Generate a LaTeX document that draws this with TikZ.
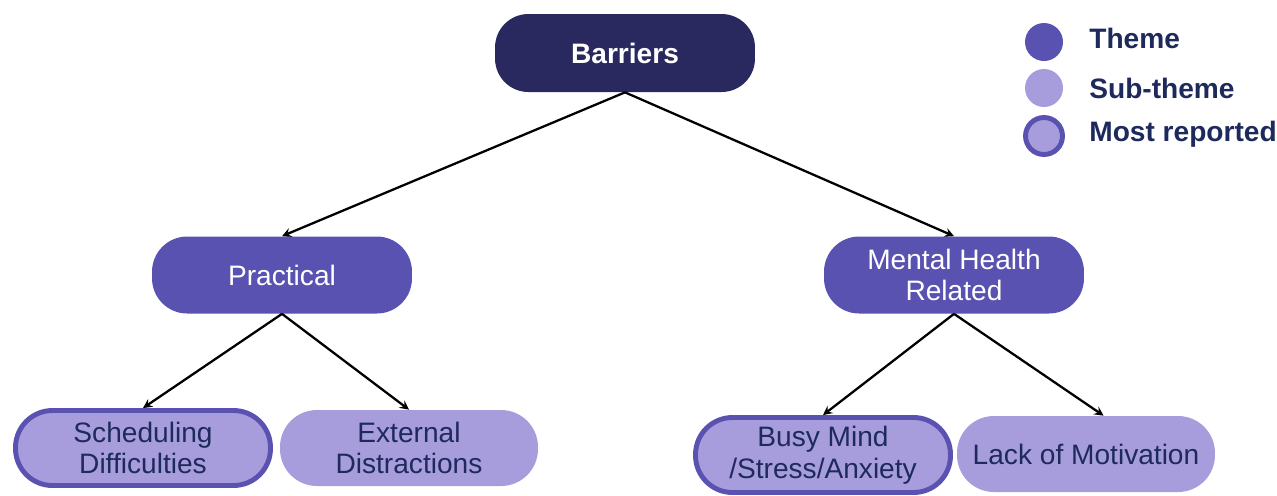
\documentclass[tikz,border=0pt]{standalone}
\usepackage{fontspec}
\setmainfont{Liberation Sans}
\usetikzlibrary{arrows}
\usetikzlibrary{positioning}
\definecolor{bleuNuit}{HTML}{29295F}
\definecolor{violetTheme}{HTML}{5A52B0}
\definecolor{lavande}{HTML}{A79DDC}
\definecolor{encre}{HTML}{1E2A5C}
\tikzstyle{racine}=[
        rectangle,
        rounded corners=19pt,
        fill=bleuNuit,
        text=white,
        font=\fontsize{16}{18}\selectfont\bfseries,
        minimum width=5.2cm,
        minimum height=1.56cm
]
\tikzstyle{theme}=[
        rectangle,
        rounded corners=20pt,
        fill=violetTheme,
        text=white,
        align=center,
        font=\fontsize{16}{18}\selectfont,
        minimum width=5.2cm,
        minimum height=1.54cm
]
\tikzstyle{soustheme}=[rectangle,rounded corners=21pt,fill=lavande,text=encre,align=center,font=\fontsize{16}{18}\selectfont,minimum width=5.16cm,minimum height=1.52cm]
\tikzstyle{frequent}=[soustheme,draw=violetTheme,line width=2.8pt,minimum width=5.1cm,minimum height=1.5cm]
\tikzstyle{pastille}=[circle,minimum size=0.76cm,inner sep=0pt]
\tikzstyle{legende}=[anchor=west,text=encre,font=\fontsize{16}{18}\selectfont\bfseries,inner sep=0pt]
\tikzstyle{suite}=[->,>=stealth,line width=1.3pt]

\begin{document}
\begin{tikzpicture}[x=0.02cm,y=-0.02cm]
\useasboundingbox (0,0) rectangle (1277,495);
\node[racine] (barrieres) at (625,53) {Barriers};
\node[theme] (pratique) at (282,275) {Practical};
\node[theme] (mentale) at (954,275) {Mental Health\\Related};
\node[frequent] (horaires) at (143,448) {Scheduling\\Difficulties};
\node[soustheme] (distractions) at (409,448) {External\\Distractions};
\node[frequent] (stress) at (823,455) {Busy Mind\\/Stress/Anxiety};
\node[soustheme] (motivation) at (1086,454) {Lack of Motivation};
%legende
\node[pastille,fill=violetTheme] (lgTheme) at (1044,42) {};
\node[pastille,fill=lavande] (lgSous) at (1044,88) {};
\node[pastille,fill=lavande,draw=violetTheme,line width=2.8pt,minimum size=0.74cm] (lgFrequent) at (1044,136) {};
\node[legende] (txtTheme) at (1089,38) {Theme};
\node[legende] (txtSous) at (1089,88) {Sub-theme};
\node[legende] (txtFrequent) at (1089,134) {Most reported};
%fleches
\draw[suite] (barrieres.south) -- (pratique.north);
\draw[suite] (barrieres.south) -- (mentale.north);
\draw[suite] (pratique.south) -- (horaires.north);
\draw[suite] (pratique.south) -- (distractions.north);
\draw[suite] (mentale.south) -- (stress.north);
\draw[suite] (mentale.south) -- ([xshift=10pt]motivation.north);
\end{tikzpicture}
\end{document}
